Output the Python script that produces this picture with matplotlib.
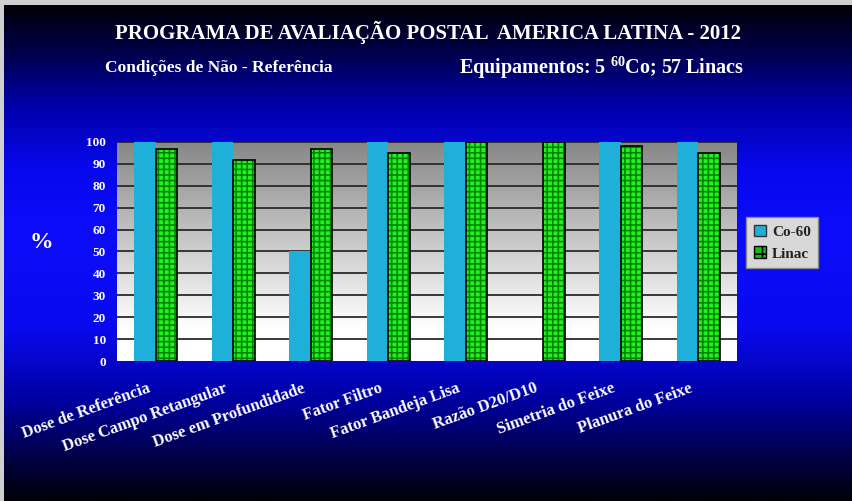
import numpy as np
import matplotlib
matplotlib.use("Agg")
import matplotlib.pyplot as plt
import matplotlib.transforms as mtransforms
from matplotlib.colors import LinearSegmentedColormap
from matplotlib.patches import Patch

categories = ["Dose de Referência", "Dose Campo Retangular", "Dose em Profundidade",
              "Fator Filtro", "Fator Bandeja Lisa", "Razão D20/D10",
              "Simetria do Feixe", "Planura do Feixe"]
co60 = [100, 100, 50, 100, 100, 0, 100, 100]
linac = [97, 92, 97, 95, 100, 100, 98, 95]
yticks = [0, 10, 20, 30, 40, 50, 60, 70, 80, 90, 100]
series_names = ["Co-60", "Linac"]

plt.rcParams['font.family'] = ['Liberation Serif', 'DejaVu Serif']
plt.rcParams['font.weight'] = 'bold'
plt.rcParams['mathtext.fontset'] = 'custom'
plt.rcParams['mathtext.rm'] = 'Liberation Serif:bold'
plt.rcParams['mathtext.default'] = 'rm'
plt.rcParams['hatch.linewidth'] = 1.15

W, H = 852, 501
fig = plt.figure(figsize=(W / 100, H / 100), dpi=100, facecolor='#cfcfcf')

# background gradient
bg = fig.add_axes([4 / W, 0, 1 - 4 / W, (H - 5) / H], zorder=-10)
bg_cmap = LinearSegmentedColormap.from_list("bg", [
    (0.0, '#000006'), (0.08, '#000040'), (0.2, '#0000a8'), (0.33, '#0808ee'),
    (0.45, '#0c0cfa'), (0.65, '#0a0af0'), (0.8, '#0000a0'), (0.92, '#000040'), (1.0, '#000008')])
grad = np.linspace(0, 1, 256).reshape(-1, 1)
bg.imshow(grad, aspect='auto', cmap=bg_cmap, extent=[0, 1, 1, 0])
bg.set_axis_off()

ax = fig.add_axes([117 / W, 140 / H, 620 / W, 219 / H])
x = np.arange(len(categories))
ax.set_xlim(-0.5, len(categories) - 0.5)
ax.set_ylim(0, 100)

plot_cmap = LinearSegmentedColormap.from_list("pl", [(0, '#868686'), (0.55, '#d6d6d6'), (0.85, '#ffffff'), (1, '#ffffff')])
ax.imshow(grad, aspect='auto', cmap=plot_cmap, extent=[-0.5, len(categories) - 0.5, 0, 100], zorder=0)
for t in yticks[1:]:
    ax.axhline(t, color='#2a2a2a', lw=1.3, zorder=1)

w = 0.28
ax.bar(x - w / 2, co60, width=w, color='#1eb0d8', edgecolor='none', zorder=2)
ax.bar(x + w / 2, linac, width=w, color='#22f022', hatch='+++', edgecolor='#008400', linewidth=0, zorder=2)
ax.bar(x + w / 2, linac, width=w, fill=False, edgecolor='#000000', linewidth=1.2, zorder=3)

for s in ax.spines.values():
    s.set_visible(False)
ax.set_yticks(yticks)
ax.set_yticklabels([str(t) for t in yticks], color='white', fontsize=9.5, fontweight='bold')
ax.tick_params(axis='y', length=0, pad=8)
ax.set_xticks(x)
ax.set_xticklabels(categories, rotation=20, ha='right', va='top', rotation_mode='anchor',
                   color='white', fontsize=12, fontweight='bold')
ax.tick_params(axis='x', length=0, pad=14)
shift = mtransforms.ScaledTranslation(-9 / 100, 0, fig.dpi_scale_trans)
for lbl in ax.get_xticklabels():
    lbl.set_transform(lbl.get_transform() + shift)

fig.text(41 / W, 1 - 242 / H, "%", color='white', fontsize=17, fontweight='bold', ha='center', va='center')

fig.text(428 / W, 1 - 33 / H, "PROGRAMA DE AVALIAÇÃO POSTAL  AMERICA LATINA - 2012",
         color='white', fontsize=15, fontweight='bold', ha='center', va='center')
fig.text(105 / W, 1 - 68 / H, "Condições de Não - Referência",
         color='white', fontsize=12.5, fontweight='bold', ha='left', va='center')
fig.text(602 / W, 1 - 68 / H, "Equipamentos: 5 $^{60}$Co; 57 Linacs",
         color='white', fontsize=14.5, fontweight='bold', ha='center', va='center')

handles = [Patch(facecolor='#1eb0d8', edgecolor='#333333', label=series_names[0]),
           Patch(facecolor='#10c010', edgecolor='#000000', hatch='++', label=series_names[1])]
leg = fig.legend(handles=handles, loc='upper left', bbox_to_anchor=(746 / W, 1 - 217 / H),
                 bbox_transform=fig.transFigure, fancybox=False, framealpha=1,
                 facecolor='#d8d8d8', edgecolor='#8a8a8a', fontsize=11,
                 handlelength=0.8, handleheight=0.8, handletextpad=0.4,
                 borderpad=0.5, labelspacing=0.5, borderaxespad=0)
for t in leg.get_texts():
    t.set_color('#222222')
    t.set_fontweight('bold')

fig.savefig("out.png", dpi=100, facecolor=fig.get_facecolor())
